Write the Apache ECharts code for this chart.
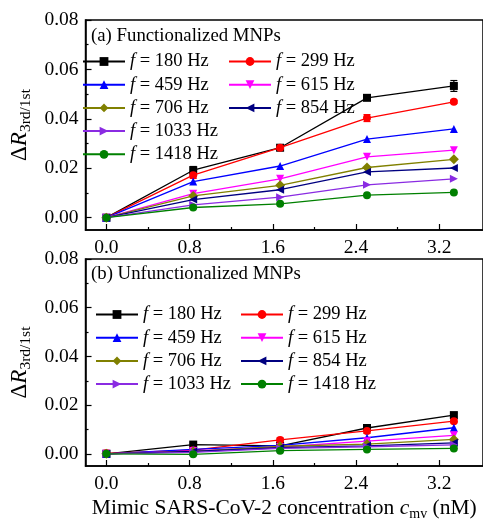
<!DOCTYPE html>
<html>
<head>
<meta charset="utf-8">
<script src="https://cdn.jsdelivr.net/npm/echarts@6/dist/echarts.min.js"></script>
<style>html,body{margin:0;padding:0;background:#fff;}#c{width:483px;height:522px;}</style>
</head>
<body>
<div id="c"></div>
<script>
// ---- data ----
const conc = [0, 0.835, 1.67, 2.505, 3.34];
const freqs = ['180', '299', '459', '615', '706', '854', '1033', '1418'];
const xTicks = [0, 0.8, 1.6, 2.4, 3.2];
const xMinorTicks = [0.4, 1.2, 2.0, 2.8];
const yTicks = [0, 0.02, 0.04, 0.06, 0.08];
const yMinorTicks = [0.01, 0.03, 0.05, 0.07];

// (a) Functionalized MNPs
const a180 = [0, 0.0192, 0.0283, 0.0485, 0.0533];
const a299 = [0, 0.0172, 0.0283, 0.0403, 0.0469];
const a459 = [0, 0.0146, 0.0209, 0.0318, 0.0359];
const a615 = [0, 0.0097, 0.0157, 0.0246, 0.0273];
const a706 = [0, 0.0088, 0.0131, 0.0203, 0.0236];
const a854 = [0, 0.0073, 0.0113, 0.0185, 0.0201];
const a1033 = [0, 0.0052, 0.0083, 0.0133, 0.0157];
const a1418 = [0, 0.0041, 0.0056, 0.0091, 0.0102];
const aErr180 = [0.0005, 0.0015, 0.0008, 0.0006, 0.0022];
const aErr299 = [0.0005, 0.0013, 0.0006, 0.0014, 0.0006];

// (b) Unfunctionalized MNPs
const b180 = [0, 0.0038, 0.0033, 0.0106, 0.0159];
const b299 = [0.0002, 0.0015, 0.0057, 0.0094, 0.0134];
const b459 = [0, 0.0018, 0.0035, 0.0066, 0.0107];
const b615 = [0, 0.0012, 0.0028, 0.0052, 0.0076];
const b706 = [0, 0.0010, 0.0031, 0.0040, 0.0059];
const b854 = [0, 0.0010, 0.0025, 0.0033, 0.0045];
const b1033 = [0, 0.0006, 0.0022, 0.0029, 0.0037];
const b1418 = [0, -0.0002, 0.0013, 0.0018, 0.0022];
const bErr180 = [0.0008, 0.0006, 0.0006, 0.0014, 0.0008];
const bErr299 = [0.0012, 0.0006, 0.0008, 0.0010, 0.0006];

// ---- styles ----
const colors = ['#000000', '#ff0000', '#0000ff', '#ff00ff', '#808000', '#000080', '#8a2be2', '#008000'];
const symbols = ['rect', 'circle', 'triangle', 'triangle', 'diamond', 'triangle', 'triangle', 'circle'];
const rotates = [0, 0, 0, 180, 0, 90, -90, 0];
const FONT = '"Liberation Serif", "Times New Roman", serif';

const aSets = [a180, a299, a459, a615, a706, a854, a1033, a1418];
const bSets = [b180, b299, b459, b615, b706, b854, b1033, b1418];

const name = f => 'f = ' + f + ' Hz';

function lineSeries(vals, i, panel) {
  return {
    type: 'line', name: name(freqs[i]),
    xAxisIndex: panel * 2, yAxisIndex: panel * 2,
    data: conc.map((x, k) => [x, vals[k]]),
    symbol: symbols[i], symbolRotate: rotates[i], symbolSize: symbols[i] === 'diamond' ? 10 : 8,
    color: colors[i],
    lineStyle: { width: 1.3, color: colors[i] },
    itemStyle: { color: colors[i] },
    z: 3 + i, animation: false
  };
}
function errSeries(vals, errs, color, panel) {
  return {
    type: 'custom', xAxisIndex: panel * 2, yAxisIndex: panel * 2,
    data: conc.map((x, k) => [x, vals[k], errs[k]]),
    renderItem: function (params, api) {
      const x = api.value(0), y = api.value(1), e = api.value(2);
      const hi = api.coord([x, y + e]), lo = api.coord([x, y - e]);
      const st = { stroke: color, lineWidth: 1.2 };
      return { type: 'group', children: [
        { type: 'line', shape: { x1: hi[0], y1: hi[1], x2: lo[0], y2: lo[1] }, style: st },
        { type: 'line', shape: { x1: hi[0] - 3.5, y1: hi[1], x2: hi[0] + 3.5, y2: hi[1] }, style: st },
        { type: 'line', shape: { x1: lo[0] - 3.5, y1: lo[1], x2: lo[0] + 3.5, y2: lo[1] }, style: st }
      ] };
    },
    z: 2, animation: false, silent: true
  };
}

const grids = [
  { left: 80, top: 20, width: 412, height: 210 },
  { left: 80, top: 259, width: 412, height: 209 }
];
const XMAX = 3.62;

const axisLineStyle = { color: '#000', width: 1.5 };
const xAxes = [], yAxes = [];
grids.forEach((g, p) => {
  xAxes.push({
    type: 'value', gridIndex: p, min: -0.2, max: XMAX, position: 'bottom',
    axisLine: { show: true, onZero: false, lineStyle: axisLineStyle },
    axisTick: { show: true, inside: true, length: 6, customValues: xTicks, lineStyle: { color: '#000', width: 1.2 } },
    axisLabel: { customValues: xTicks, formatter: v => v.toFixed(1), color: '#000', fontFamily: FONT, fontSize: 19.5, margin: 8 },
    splitLine: { show: false },
    name: p === 1 ? '{t|Mimic SARS-CoV-2 concentration }{c|c}{s|mv}{t| (nM)}' : '',
    nameLocation: 'middle', nameGap: 29,
    nameTextStyle: {
      fontFamily: FONT, fontSize: 21.5, color: '#000',
      rich: {
        t: { fontFamily: FONT, fontSize: 21.5, color: '#000' },
        c: { fontFamily: FONT, fontSize: 21.5, fontStyle: 'italic', color: '#000' },
        s: { fontFamily: FONT, fontSize: 14, color: '#000', padding: [12, 0, 0, 0] }
      }
    }
  });
  xAxes.push({
    type: 'value', gridIndex: p, min: -0.2, max: XMAX, position: 'bottom',
    axisLine: { show: false, onZero: false },
    axisTick: { show: true, inside: true, length: 3, customValues: xMinorTicks, lineStyle: { color: '#000', width: 1.2 } },
    axisLabel: { show: false },
    splitLine: { show: false }
  });
  yAxes.push({
    type: 'value', gridIndex: p, min: -0.005, max: 0.08, position: 'left',
    axisLine: { show: true, onZero: false, lineStyle: axisLineStyle },
    axisTick: { show: true, inside: true, length: 6, customValues: yTicks, lineStyle: { color: '#000', width: 1.2 } },
    axisLabel: { customValues: yTicks, formatter: v => v.toFixed(2), color: '#000', fontFamily: FONT, fontSize: 19.5, margin: 7 },
    splitLine: { show: false },
    name: '{d|Δ}{r|R}{s|3rd/1st}',
    nameLocation: 'middle', nameRotate: 90, nameGap: 46,
    nameTextStyle: {
      fontFamily: FONT, fontSize: 23, color: '#000',
      rich: {
        d: { fontFamily: FONT, fontSize: 23, color: '#000' },
        r: { fontFamily: FONT, fontSize: 23, fontStyle: 'italic', color: '#000' },
        s: { fontFamily: FONT, fontSize: 15.5, color: '#000', padding: [12, 0, 0, 0] }
      }
    }
  });
  yAxes.push({
    type: 'value', gridIndex: p, min: -0.005, max: 0.08, position: 'left',
    axisLine: { show: false, onZero: false },
    axisTick: { show: true, inside: true, length: 3, customValues: yMinorTicks, lineStyle: { color: '#000', width: 1.2 } },
    axisLabel: { show: false },
    splitLine: { show: false }
  });
});

const series = [];
aSets.forEach((v, i) => series.push(lineSeries(v, i, 0)));
bSets.forEach((v, i) => series.push(lineSeries(v, i, 1)));
series.push(errSeries(a180, aErr180, colors[0], 0));
series.push(errSeries(a299, aErr299, colors[1], 0));
series.push(errSeries(b180, bErr180, colors[0], 1));
series.push(errSeries(b299, bErr299, colors[1], 1));

const legendText = {
  fontFamily: FONT, fontSize: 18.5, color: '#000', lineHeight: 18,
  rich: {
    i: { fontFamily: FONT, fontSize: 18.5, fontStyle: 'italic', color: '#000' },
    n: { fontFamily: FONT, fontSize: 18.5, color: '#000' }
  }
};
function legend(list, left, top) {
  return {
    orient: 'vertical', left: left, top: top, itemWidth: 42, itemHeight: 11, itemGap: 4.2,
    padding: 0, selectedMode: false,
    data: list.map(name),
    formatter: n => '{i|f}{n|' + n.slice(1) + '}',
    textStyle: legendText
  };
}

const option = {
  backgroundColor: '#fff',
  animation: false,
  title: [
    { text: '(a) Functionalized MNPs', left: 91, top: 27, padding: 0,
      textStyle: { fontFamily: FONT, fontSize: 18.8, fontWeight: 'normal', color: '#000' } },
    { text: '(b) Unfunctionalized MNPs', left: 91, top: 265, padding: 0,
      textStyle: { fontFamily: FONT, fontSize: 18.8, fontWeight: 'normal', color: '#000' } }
  ],
  legend: [
    legend(['180', '459', '706', '1033', '1418'], 82, 52),
    legend(['299', '615', '854'], 228, 52),
    legend(['180', '459', '706', '1033'], 95, 305),
    legend(['299', '615', '854', '1418'], 240, 305)
  ],
  grid: grids.map(g => Object.assign({ show: true, borderColor: '#000', borderWidth: 1.5, backgroundColor: 'transparent' }, g)),
  xAxis: xAxes,
  yAxis: yAxes,
  series: series
};

const chart = echarts.init(document.getElementById('c'), null, { renderer: 'canvas' });
chart.setOption(option);
</script>
</body>
</html>
